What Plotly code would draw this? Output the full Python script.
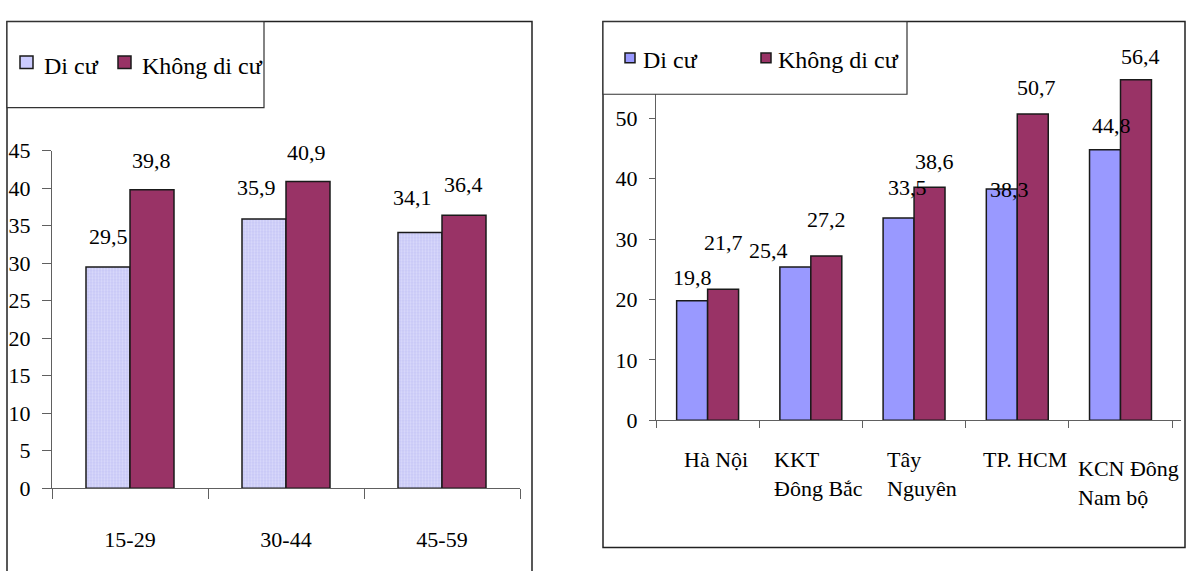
import plotly.graph_objects as go

W, H = 1195, 571

# Left panel: age groups
age_groups = ["15-29", "30-44", "45-59"]
age_migrant = [29.5, 35.9, 34.1]
age_nonmigrant = [39.8, 40.9, 36.4]

# Right panel: regions
regions = ["Hà Nội", "KKT Đông Bắc", "Tây Nguyên", "TP. HCM", "KCN Đông Nam bộ"]
region_labels = ["Hà Nội", "KKT<br>Đông Bắc", "Tây<br>Nguyên", "TP. HCM", "KCN Đông<br>Nam bộ"]
region_migrant = [19.8, 25.4, 33.5, 38.3, 44.8]
region_nonmigrant = [21.7, 27.2, 38.6, 50.7, 56.4]

series_names = ["Di cư", "Không di cư"]
left_yticks = list(range(0, 50, 5))
right_yticks = list(range(0, 70, 10))

# styling
PLUM = "#993366"
PERI = "#9999FF"
LAV = "#CCCCFF"
EDGE = "#1a1a1a"
AXIS = "#606060"
FONT = "Liberation Serif, Times New Roman, serif"

# value-label nudges in pixels (x shift, y shift above bar top)
left_mig_dx, left_mig_dy = [0, -8, -8], [30, 31, 35]
left_non_dx, left_non_dy = [-1, -2, -1], [29, 29, 31]
right_mig_dx, right_mig_dy = [0, -27, 9, 8, 6], [23, 16, 30, -1, 24]
right_non_dx, right_non_dy = [0, 0, 5, 4, 5], [47, 37, 26, 27, 23]
right_lab_dy = [0, 0, 0, 0, 9]


def px(x):
    return x / W


def py(y):
    return 1 - y / H


def fmt(v):
    return f"{v:.1f}".replace(".", ",")


LW = 44 / 156   # bar width, left panel (category units)
RW = 31.5 / 105  # bar width, right panel

fig = go.Figure()

fig.add_trace(go.Bar(
    x=age_groups, y=age_migrant, name=series_names[0], width=LW, offset=-LW,
    marker=dict(color=LAV, line=dict(color=EDGE, width=1.5),
                pattern=dict(shape=".", fgcolor="#eeeeff", bgcolor="#c6c6f6",
                             size=3, solidity=0.45)),
    xaxis="x", yaxis="y", showlegend=False))
fig.add_trace(go.Bar(
    x=age_groups, y=age_nonmigrant, name=series_names[1], width=LW, offset=0,
    marker=dict(color=PLUM, line=dict(color=EDGE, width=1.5)),
    xaxis="x", yaxis="y", showlegend=False))

fig.add_trace(go.Bar(
    x=regions, y=region_migrant, name=series_names[0], width=RW, offset=-RW,
    marker=dict(color=PERI, line=dict(color=EDGE, width=1.5)),
    xaxis="x2", yaxis="y2", showlegend=False))
fig.add_trace(go.Bar(
    x=regions, y=region_nonmigrant, name=series_names[1], width=RW, offset=0,
    marker=dict(color=PLUM, line=dict(color=EDGE, width=1.5)),
    xaxis="x2", yaxis="y2", showlegend=False))

annotations = []

# value labels
def add_values(vals, side, w, dxs, dys, xr, yr, size):
    for i, v in enumerate(vals):
        annotations.append(dict(
            x=i + side * w / 2, y=v, xref=xr, yref=yr, text=fmt(v),
            showarrow=False, xanchor="center", yanchor="middle",
            xshift=dxs[i], yshift=dys[i],
            font=dict(family=FONT, size=size, color="black")))

add_values(age_migrant, -1, LW, left_mig_dx, left_mig_dy, "x", "y", 22)
add_values(age_nonmigrant, 1, LW, left_non_dx, left_non_dy, "x", "y", 22)
add_values(region_migrant, -1, RW, right_mig_dx, right_mig_dy, "x2", "y2", 22)
add_values(region_nonmigrant, 1, RW, right_non_dx, right_non_dy, "x2", "y2", 22)

# region category labels (left-aligned lines)
for i, lab in enumerate(region_labels):
    annotations.append(dict(
        x=i, y=py(453), xref="x2", yref="paper", text=lab, showarrow=False,
        xanchor="center", yanchor="top", align="left", xshift=8,
        yshift=-right_lab_dy[i],
        font=dict(family=FONT, size=22, color="black")))

# panel frames and legend boxes
shapes = [
    dict(type="rect", xref="paper", yref="paper", x0=px(7), x1=px(532),
         y0=py(600), y1=py(10), line=dict(color="#222", width=1.5), layer="below"),
    dict(type="rect", xref="paper", yref="paper", x0=px(603), x1=px(1185),
         y0=py(560), y1=py(10), line=dict(color="#222", width=1.5), layer="below"),
    dict(type="rect", xref="paper", yref="paper", x0=px(7), x1=px(264),
         y0=py(100), y1=py(10), line=dict(color="#333", width=1.2),
         fillcolor="white", layer="above"),
    dict(type="rect", xref="paper", yref="paper", x0=px(603), x1=px(907),
         y0=py(86), y1=py(10), line=dict(color="#333", width=1.2),
         fillcolor="white", layer="above"),
]

legend_items = [
    # (swatch x0, x1, y0, y1, colour, text x, text y, label)
    (20, 33, 46, 59, LAV, 42, 56, series_names[0]),
    (118, 131, 46, 59, PLUM, 140, 56, series_names[1]),
    (625, 635, 43, 53, PERI, 641, 50, series_names[0]),
    (761, 771, 43, 53, PLUM, 776, 50, series_names[1]),
]
for x0, x1, y0, y1, col, tx, ty, name in legend_items:
    shapes.append(dict(type="rect", xref="paper", yref="paper",
                       x0=px(x0), x1=px(x1), y0=py(y1), y1=py(y0),
                       fillcolor=col, line=dict(color=EDGE, width=1.5),
                       layer="above"))
    annotations.append(dict(x=px(tx), y=py(ty), xref="paper", yref="paper",
                            text=name, showarrow=False, xanchor="left",
                            yanchor="middle",
                            font=dict(family=FONT, size=24, color="black")))

axis_common = dict(showgrid=False, zeroline=False, showline=True,
                   linecolor=AXIS, linewidth=1, ticks="outside",
                   tickcolor=AXIS, tickwidth=1,
                   tickfont=dict(family=FONT, size=22, color="black"))

fig.update_layout(
    width=W, height=H, margin=dict(l=0, r=0, t=0, b=0),
    paper_bgcolor="white", plot_bgcolor="white", barmode="group",
    font=dict(family=FONT),
    xaxis=dict(domain=[px(52), px(520)], anchor="y", type="category",
               tickson="boundaries", ticklen=10, ticklabelstandoff=31,
               **axis_common),
    yaxis=dict(domain=[py(498), py(145)], anchor="x", range=[0, 45],
               tickvals=left_yticks, ticklen=9, ticklabelstandoff=7,
               **axis_common),
    xaxis2=dict(domain=[px(656), px(1181)], anchor="y2", type="category",
                tickson="boundaries", ticklen=7, showticklabels=False,
                **axis_common),
    yaxis2=dict(domain=[py(427), py(48)], anchor="x2", range=[0, 60],
                tickvals=right_yticks, ticklen=6, ticklabelstandoff=7,
                **axis_common),
    shapes=shapes,
    annotations=annotations,
)

fig.write_html("out.html")
